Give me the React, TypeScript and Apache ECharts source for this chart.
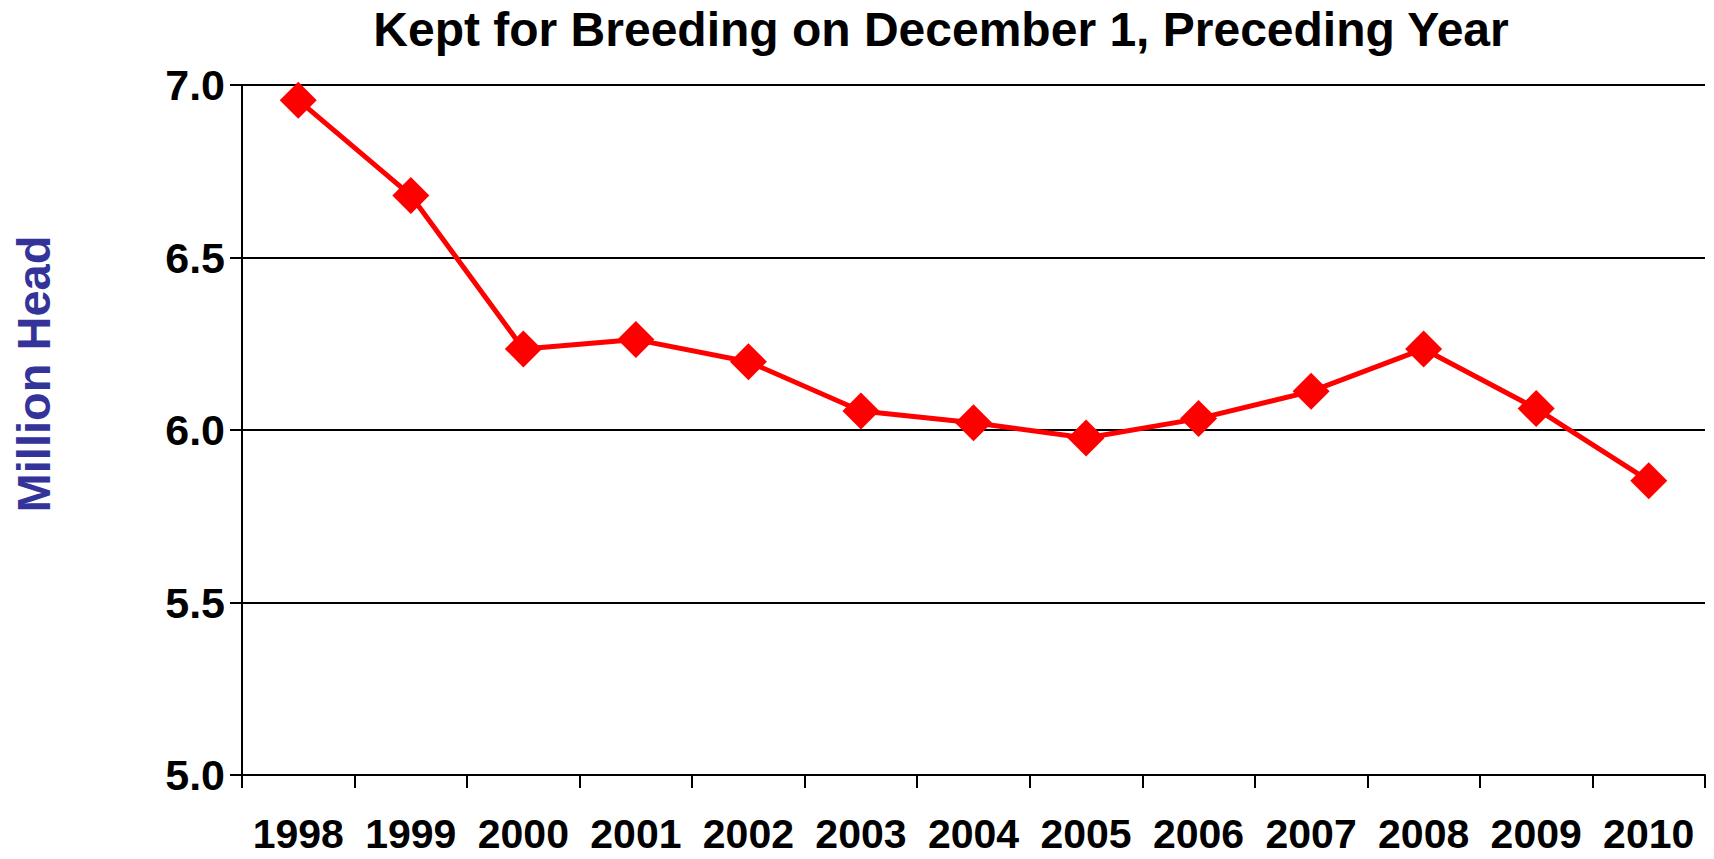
import React, { useEffect, useRef } from "react";
import * as echarts from "echarts";

const titleText = "Kept for Breeding on December 1, Preceding Year";
const yAxisTitle = "Million Head";
const years = ["1998", "1999", "2000", "2001", "2002", "2003", "2004", "2005", "2006", "2007", "2008", "2009", "2010"];
const headMillions = [6.956, 6.68, 6.235, 6.262, 6.198, 6.055, 6.021, 5.977, 6.033, 6.112, 6.235, 6.062, 5.853];
const yMin = 5.0;
const yMax = 7.0;
const yStep = 0.5;

const FONT = "'Liberation Sans', Arial, Helvetica, sans-serif";

export default function App() {
  const ref = useRef<HTMLDivElement>(null);
  useEffect(() => {
    if (!ref.current) return;
    const chart = echarts.init(ref.current, null, { renderer: "svg" });
    chart.setOption({
      animation: false,
      backgroundColor: "#ffffff",
      grid: { left: 242, right: 9, top: 85, bottom: 84, containLabel: false },
      graphic: [
        {
          type: "text",
          x: 941,
          y: 29,
          style: {
            text: titleText,
            font: `bold 48px ${FONT}`,
            fill: "#000000",
            textAlign: "center",
            textVerticalAlign: "middle",
          },
        },
        {
          type: "text",
          x: 33,
          y: 374,
          rotation: Math.PI / 2,
          style: {
            text: yAxisTitle,
            font: `bold 47px ${FONT}`,
            fill: "#333399",
            textAlign: "center",
            textVerticalAlign: "middle",
          },
        },
      ],
      xAxis: {
        type: "category",
        data: years,
        boundaryGap: true,
        axisLine: { show: true, lineStyle: { color: "#000", width: 2 } },
        axisTick: { show: true, length: 13, inside: false, lineStyle: { color: "#000", width: 2 } },
        axisLabel: {
          color: "#000",
          fontFamily: FONT,
          fontWeight: "bold",
          fontSize: 41,
          lineHeight: 34,
          margin: 42,
          interval: 0,
        },
        splitLine: { show: false },
      },
      yAxis: {
        type: "value",
        min: yMin,
        max: yMax,
        interval: yStep,
        axisLine: { show: true, lineStyle: { color: "#000", width: 2 } },
        axisTick: { show: true, length: 12, lineStyle: { color: "#000", width: 2 } },
        axisLabel: {
          color: "#000",
          fontFamily: FONT,
          fontWeight: "bold",
          fontSize: 43,
          margin: 17,
          formatter: (v: number) => v.toFixed(1),
        },
        splitLine: { show: true, lineStyle: { color: "#000", width: 2 } },
      },
      series: [
        {
          type: "line",
          data: headMillions,
          symbol: "diamond",
          symbolSize: 37,
          itemStyle: { color: "#ff0000" },
          lineStyle: { color: "#ff0000", width: 5 },
        },
      ],
    });
    return () => chart.dispose();
  }, []);
  return (
    <div
      ref={ref}
      style={{ position: "fixed", left: 0, top: 0, width: 1714, height: 859, background: "#fff" }}
    />
  );
}
